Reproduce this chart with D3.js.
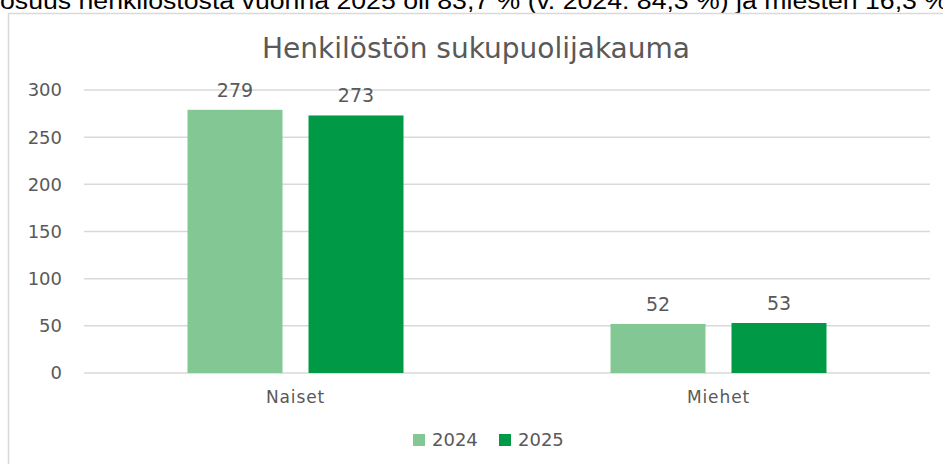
<!DOCTYPE html>
<html>
<head>
<meta charset="utf-8">
<script src="https://cdn.jsdelivr.net/npm/d3@7"></script>
<style>
  html, body { margin: 0; padding: 0; background: #fff; }
  svg { display: block; }
</style>
</head>
<body>
<svg id="chart" width="943" height="464"></svg>
<script>
const categories = ["Naiset", "Miehet"];
const seriesNames = ["2024", "2025"];
const values2024 = [279, 52];
const values2025 = [273, 53];
const yTicks = [0, 50, 100, 150, 200, 250, 300];
const titleText = "Henkilöstön sukupuolijakauma";
const introText = "osuus henkilöstöstä vuonna 2025 oli 83,7 % (v. 2024: 84,3 %) ja miesten 16,3 %";
const colors = ["#82c794", "#009a46"];

const seriesValues = [values2024, values2025];
const data = categories.map((c, i) => ({
  category: c,
  values: seriesNames.map((s, j) => ({ series: s, value: seriesValues[j][i], color: colors[j] }))
}));

const svg = d3.select("#chart");
const textColor = "#595959";
const numFont = "'DejaVu Sans', Verdana, sans-serif";

// document text (cut at the top edge, as in the source)
svg.append("text")
  .attr("x", 0).attr("y", 9)
  .attr("font-family", "'Liberation Sans', Arial, sans-serif")
  .attr("font-size", 23)
  .attr("fill", "#000")
  .attr("textLength", 948)
  .attr("lengthAdjust", "spacingAndGlyphs")
  .text(introText);

// chart frame
svg.append("rect")
  .attr("x", 8.5).attr("y", 13.5)
  .attr("width", 960).attr("height", 480)
  .attr("fill", "#fff")
  .attr("stroke", "#d9d9d9")
  .attr("stroke-width", 1.5);

const x0 = d3.scaleBand().domain(categories).range([84, 930]).padding(0);
const y = d3.scaleLinear().domain([0, 300]).range([373, 90]);

// gridlines
svg.append("g").selectAll("line")
  .data(yTicks).join("line")
  .attr("x1", 84).attr("x2", 930)
  .attr("y1", d => y(d)).attr("y2", d => y(d))
  .attr("stroke", "#d9d9d9").attr("stroke-width", 1.5);

// y labels
svg.append("g").selectAll("text")
  .data(yTicks).join("text")
  .attr("x", 62).attr("y", d => y(d))
  .attr("dy", "0.36em")
  .attr("text-anchor", "end")
  .attr("font-family", numFont)
  .attr("font-size", 18)
  .attr("fill", textColor)
  .text(d => d);

// bars
const groups = svg.append("g").selectAll("g")
  .data(data).join("g");

groups.each(function(d) {
  const c = x0(d.category) + x0.bandwidth() / 2;
  const x1 = d3.scaleBand().domain(seriesNames).range([c - 108, c + 108]).paddingInner(0.215);
  const g = d3.select(this);
  g.selectAll("rect").data(d.values).join("rect")
    .attr("x", v => x1(v.series))
    .attr("y", v => y(v.value))
    .attr("width", x1.bandwidth())
    .attr("height", v => y(0) - y(v.value))
    .attr("fill", v => v.color);
  g.selectAll("text.lbl").data(d.values).join("text")
    .attr("class", "lbl")
    .attr("x", v => x1(v.series) + x1.bandwidth() / 2)
    .attr("y", v => y(v.value) - 13)
    .attr("text-anchor", "middle")
    .attr("font-family", numFont)
    .attr("font-size", 19)
    .attr("fill", textColor)
    .text(v => v.value);
});

// category labels
svg.append("g").selectAll("text")
  .data(categories).join("text")
  .attr("x", d => x0(d) + x0.bandwidth() / 2)
  .attr("y", 403)
  .attr("text-anchor", "middle")
  .attr("font-family", numFont)
  .attr("font-size", 17)
  .attr("letter-spacing", 0.9)
  .attr("fill", textColor)
  .text(d => d);

// title
svg.append("text")
  .attr("x", 476).attr("y", 58)
  .attr("text-anchor", "middle")
  .attr("font-family", numFont)
  .attr("font-size", 28)
  .attr("fill", textColor)
  .text(titleText);

// legend
const legendItems = [{ x: 413 }, { x: 499 }];
const lg = svg.append("g").selectAll("g")
  .data(seriesNames).join("g")
  .attr("transform", (d, i) => `translate(${legendItems[i].x},434)`);
lg.append("rect").attr("width", 12).attr("height", 12)
  .attr("fill", (d, i) => colors[i]);
lg.append("text").attr("x", 19).attr("y", 6).attr("dy", "0.36em")
  .attr("font-family", numFont).attr("font-size", 18)
  .attr("fill", textColor)
  .text(d => d);
</script>
</body>
</html>
